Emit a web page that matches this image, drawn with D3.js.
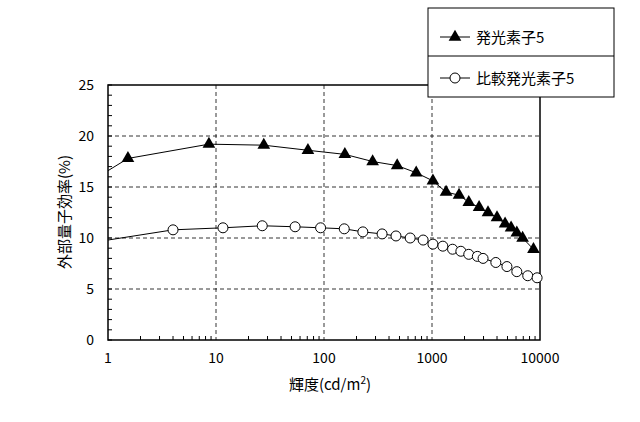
<!DOCTYPE html>
<html><head><meta charset="utf-8">
<script src="https://cdn.jsdelivr.net/npm/d3@7"></script>
<style>body{margin:0;background:#fff}text{font-family:"Noto Sans CJK JP","Noto Sans",sans-serif}</style>
</head><body><svg id="c" width="640" height="422"></svg>
<script>
// 発光素子5
const lumA = [1, 1.53, 8.6, 27.7, 71, 156, 282, 476, 714, 1020, 1350, 1780, 2190, 2730, 3300, 4000, 4750, 5400, 6100, 6900, 8700]
const effA = [16.6, 17.8, 19.2, 19.1, 18.6, 18.2, 17.5, 17.1, 16.4, 15.6, 14.5, 14.2, 13.5, 13.0, 12.5, 12.0, 11.4, 11.0, 10.5, 10.0, 8.9]
// 比較発光素子5
const lumB = [1, 4.0, 11.6, 26.8, 54, 93, 154, 229, 345, 464, 628, 828, 1020, 1260, 1550, 1850, 2190, 2630, 2970, 3900, 4940, 6100, 7700, 9400]
const effB = [9.8, 10.8, 11.0, 11.2, 11.1, 11.0, 10.9, 10.6, 10.4, 10.2, 10.0, 9.8, 9.4, 9.2, 8.9, 8.7, 8.4, 8.2, 8.0, 7.6, 7.2, 6.7, 6.3, 6.1]
const xTicks = [1, 10, 100, 1000, 10000]
const yTicks = [0, 5, 10, 15, 20, 25]

const svg = d3.select('#c')
const L = 108, R = 540, T = 85, B = 340
const x = d3.scaleLog().domain([1, 10000]).range([L, R])
const y = d3.scaleLinear().domain([0, 25]).range([B, T])

// grid
svg.append('g').selectAll('line').data(xTicks.slice(1, -1)).join('line')
  .attr('x1', d => x(d)).attr('x2', d => x(d)).attr('y1', T).attr('y2', B)
  .attr('stroke', '#000').attr('stroke-dasharray', '4,3').attr('stroke-width', 0.8)
svg.append('g').selectAll('line').data(yTicks.slice(1, -1)).join('line')
  .attr('y1', d => y(d)).attr('y2', d => y(d)).attr('x1', L).attr('x2', R)
  .attr('stroke', '#000').attr('stroke-dasharray', '4,3').attr('stroke-width', 0.8)
svg.append('rect').attr('x', L).attr('y', T).attr('width', R - L).attr('height', B - T)
  .attr('fill', 'none').attr('stroke', '#000').attr('stroke-width', 1.5)

// axes
const minor = []
for (let e = 0; e < 4; e++) for (let k = 2; k < 10; k++) minor.push(k * Math.pow(10, e))
svg.append('g').selectAll('line').data(minor).join('line')
  .attr('x1', d => x(d)).attr('x2', d => x(d)).attr('y1', B).attr('y2', B - 4).attr('stroke', '#000')
svg.append('g').selectAll('line').data(d3.range(0, 25.01, 1)).join('line')
  .attr('y1', d => y(d)).attr('y2', d => y(d)).attr('x1', L).attr('x2', L + 4).attr('stroke', '#000')
svg.append('g').selectAll('text').data(xTicks).join('text')
  .attr('x', d => x(d)).attr('y', B + 23).attr('text-anchor', 'middle').attr('font-size', 14).text(d => d)
svg.append('g').selectAll('text').data(yTicks).join('text')
  .attr('x', L - 14).attr('y', d => y(d) + 5).attr('text-anchor', 'end').attr('font-size', 14).text(d => d)

svg.append('text').attr('x', 330).attr('y', 390).attr('text-anchor', 'middle').attr('font-size', 15)
  .html('輝度(cd/m<tspan dy="-6" font-size="10">2</tspan><tspan dy="6">)</tspan>')
svg.append('text').attr('transform', 'translate(70,212) rotate(-90)').attr('text-anchor', 'middle')
  .attr('font-size', 15).text('外部量子効率(%)')

// series
const line = d3.line().x(d => x(d[0])).y(d => y(d[1]))
const A = d3.zip(lumA, effA), Bd = d3.zip(lumB, effB)
svg.append('path').attr('d', line(A)).attr('fill', 'none').attr('stroke', '#000')
svg.append('path').attr('d', line(Bd)).attr('fill', 'none').attr('stroke', '#000')
const tri = d3.symbol().type(d3.symbolTriangle).size(70)
svg.append('g').selectAll('path').data(A.slice(1)).join('path')
  .attr('d', tri).attr('transform', d => `translate(${x(d[0])},${y(d[1])})`).attr('fill', '#000')
svg.append('g').selectAll('circle').data(Bd.slice(1)).join('circle')
  .attr('cx', d => x(d[0])).attr('cy', d => y(d[1])).attr('r', 5)
  .attr('fill', '#fff').attr('stroke', '#000')

// legend
const lg = svg.append('g')
lg.append('rect').attr('x', 428).attr('y', 8).attr('width', 186).attr('height', 89)
  .attr('fill', '#fff').attr('stroke', '#000')
lg.append('line').attr('x1', 428).attr('x2', 614).attr('y1', 56).attr('y2', 56).attr('stroke', '#000')
lg.append('line').attr('x1', 440).attr('x2', 470).attr('y1', 37).attr('y2', 37).attr('stroke', '#000')
lg.append('path').attr('d', tri).attr('transform', 'translate(455,37)')
lg.append('text').attr('x', 476).attr('y', 43).attr('font-size', 15).text('発光素子5')
lg.append('line').attr('x1', 440).attr('x2', 470).attr('y1', 78).attr('y2', 78).attr('stroke', '#000')
lg.append('circle').attr('cx', 455).attr('cy', 78).attr('r', 5).attr('fill', '#fff').attr('stroke', '#000')
lg.append('text').attr('x', 476).attr('y', 84).attr('font-size', 15).text('比較発光素子5')
</script></body></html>
